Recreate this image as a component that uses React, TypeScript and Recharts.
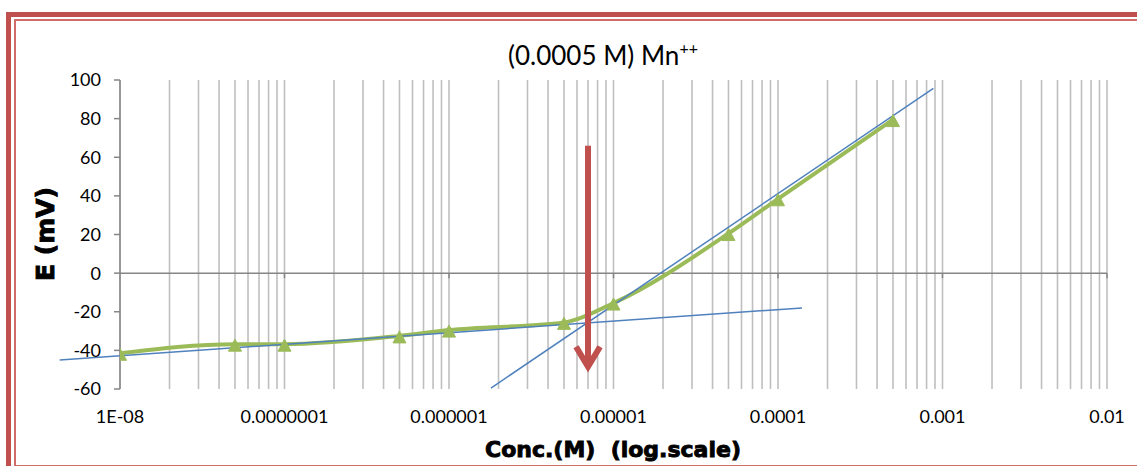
import React from 'react';
import { LineChart, Line, XAxis, YAxis, ReferenceLine } from 'recharts';

// ---- data ----
const concentrations = [1e-8, 5e-8, 1e-7, 5e-7, 1e-6, 5e-6, 1e-5, 5e-5, 1e-4, 5e-4];
const potentials = [-41.5, -36.8, -36.8, -32.5, -29.5, -25.5, -15.5, 20.5, 38.5, 79.5];
const xTicks = [1e-8, 1e-7, 1e-6, 1e-5, 1e-4, 1e-3, 1e-2];
const xTickLabels = ['1E-08', '0.0000001', '0.000001', '0.00001', '0.0001', '0.001', '0.01'];
const yTicks = [-60, -40, -20, 0, 20, 40, 60, 80, 100];
const minorMultipliers = [1, 2, 3, 4, 5, 6, 7, 8, 9];
const shallowTrendX = [4.3e-9, 1.4e-4];
const shallowTrendY = [-45, -18];
const steepTrendX = [1.8e-6, 8.8e-4];
const steepTrendY = [-59.5, 95.7];
const arrowX = 7e-6;
const arrowY = [66, -50];
const axisTickDepth = -2.6;

const data = concentrations.map((x, i) => ({ x, e: potentials[i] }));
const gridValues: number[] = [];
xTicks.slice(0, 6).forEach((d) => minorMultipliers.forEach((m) => gridValues.push(d * m)));
gridValues.push(xTicks[6]);

const GREEN = '#9BBB59';
const BLUE = '#4F81BD';
const RED = '#C0504D';
const GRID = '#BFBFBF';
const AXIS = '#868686';

const fmtX = (v: number) => {
  const i = xTicks.findIndex((t) => Math.abs(Math.log10(t) - Math.log10(v)) < 1e-6);
  return i >= 0 ? xTickLabels[i] : '';
};

const Triangle = (props: any) => {
  const { cx, cy, index } = props;
  if (cx == null || cy == null) return <g key={`t${index}`} />;
  return (
    <polygon
      key={`t${index}`}
      points={`${cx},${cy - 5} ${cx + 6.5},${cy + 7} ${cx - 6.5},${cy + 7}`}
      fill={GREEN}
      stroke={GREEN}
      strokeWidth={1}
    />
  );
};

const ArrowShape = (props: any) => {
  const { x1, y1, x2, y2 } = props;
  return (
    <g>
      <line x1={x1} y1={y1} x2={x2} y2={y2 - 4} stroke={RED} strokeWidth={6} />
      <path
        d={`M ${x2 - 12} ${y2 - 23} L ${x2} ${y2 - 3} L ${x2 + 12} ${y2 - 23}`}
        fill="none"
        stroke={RED}
        strokeWidth={6}
        strokeLinejoin="miter"
      />
    </g>
  );
};

export default function App() {
  return (
    <div style={{ position: 'absolute', left: 0, top: 0, width: 1137, height: 466, overflow: 'hidden', background: '#fff' }}>
      <div style={{ position: 'absolute', left: 6, top: 12, width: 1300, height: 600, borderLeft: `5px solid ${RED}`, borderTop: `5px solid ${RED}` }} />
      <div style={{ position: 'absolute', left: 14, top: 19, width: 1300, height: 444, borderLeft: '2px solid #D06C6A', borderTop: '2px solid #D06C6A', borderBottom: '2px solid #D06C6A' }} />
      <div style={{ position: 'absolute', left: 0, top: 0 }}>
        <LineChart width={1137} height={466} data={data} margin={{ top: 80, right: 30, bottom: 37, left: 60 }}>
          <XAxis
            dataKey="x"
            type="number"
            scale="log"
            domain={[1e-8, 1e-2]}
            allowDataOverflow
            ticks={xTicks}
            interval={0}
            tickFormatter={fmtX}
            axisLine={false}
            tickLine={false}
            tickSize={6}
            tickMargin={15}
            height={40}
            tick={{ fill: '#000', fontSize: 18, fontFamily: 'Lato' }}
          />
          <YAxis
            type="number"
            domain={[-60, 100]}
            ticks={yTicks}
            interval={0}
            allowDataOverflow
            width={60}
            axisLine={{ stroke: AXIS, strokeWidth: 1.5 }}
            tickLine={{ stroke: AXIS, strokeWidth: 1.5 }}
            tickSize={6}
            tickMargin={13}
            tick={{ fill: '#000', fontSize: 18, fontFamily: 'Lato' }}
          />
          {gridValues.map((v, i) => (
            <ReferenceLine key={`g${i}`} x={v} stroke={GRID} strokeWidth={1.6} ifOverflow="visible" zIndex={-50} />
          ))}
          <ReferenceLine y={0} stroke={AXIS} strokeWidth={1.5} zIndex={-40} />
          {xTicks.slice(1).map((d, i) => (
            <ReferenceLine
              key={`k${i}`}
              segment={[{ x: d, y: 0 }, { x: d, y: axisTickDepth }]}
              stroke={AXIS}
              strokeWidth={1.5}
              ifOverflow="visible"
              zIndex={-40}
            />
          ))}
          <Line
            type="monotone"
            dataKey="e"
            stroke={GREEN}
            strokeWidth={4}
            dot={Triangle}
            activeDot={false}
            isAnimationActive={false}
          />
          <ReferenceLine
            segment={[{ x: shallowTrendX[0], y: shallowTrendY[0] }, { x: shallowTrendX[1], y: shallowTrendY[1] }]}
            stroke={BLUE}
            strokeWidth={1.5}
            ifOverflow="visible"
            zIndex={450}
          />
          <ReferenceLine
            segment={[{ x: steepTrendX[0], y: steepTrendY[0] }, { x: steepTrendX[1], y: steepTrendY[1] }]}
            stroke={BLUE}
            strokeWidth={1.5}
            ifOverflow="visible"
            zIndex={450}
          />
          <ReferenceLine
            segment={[{ x: arrowX, y: arrowY[0] }, { x: arrowX, y: arrowY[1] }]}
            stroke={RED}
            ifOverflow="visible"
            shape={ArrowShape}
            zIndex={460}
          />
        </LineChart>
      </div>
      <svg width={1137} height={466} style={{ position: 'absolute', left: 0, top: 0, pointerEvents: 'none' }}>
        <text x={603} y={65} textAnchor="middle" fontFamily="Lato" fontSize={26} fill="#000">
          (0.0005 M) Mn<tspan fontSize={16} dy={-11}>++</tspan>
        </text>
        <text x={613} y={457} textAnchor="middle" fontFamily="DejaVu Sans" fontWeight="bold" fontSize={22} fill="#000" stroke="#000" strokeWidth={0.9} style={{ whiteSpace: 'pre' }}>
          {'Conc.(M)\u00A0\u00A0(log.scale)'}
        </text>
        <text transform="translate(54,234) rotate(-90)" textAnchor="middle" fontFamily="DejaVu Sans" fontWeight="bold" fontSize={25} fill="#000" stroke="#000" strokeWidth={0.9}>
          E (mV)
        </text>
      </svg>
    </div>
  );
}
